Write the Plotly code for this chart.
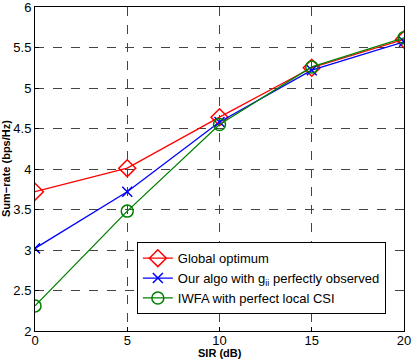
import plotly.graph_objects as go

sir = [0, 5, 10, 15, 20]
global_opt = [3.72, 4.01, 4.64, 5.25, 5.60]
our_algo = [3.02, 3.72, 4.58, 5.22, 5.57]
iwfa = [2.31, 3.48, 4.55, 5.26, 5.62]

names = ["Global optimum", "Our algo with g<sub>ii</sub> perfectly observed", "IWFA with perfect local CSI"]
colors = ["#ff0000", "#0000ff", "#008000"]
symbols = ["diamond-open", "x-thin-open", "circle-open"]
sizes = [13, 10, 12]

fig = go.Figure()
for y, n, c, s, sz in zip([global_opt, our_algo, iwfa], names, colors, symbols, sizes):
    fig.add_trace(go.Scatter(x=sir, y=y, name=n, mode="lines+markers",
                             line=dict(color=c, width=1.3),
                             marker=dict(symbol=s, size=sz, color=c, line=dict(color=c, width=1.5))))

axis_common = dict(showline=True, linecolor="black", linewidth=1, mirror=True,
                   showgrid=True, gridcolor="#444444", griddash="dash", gridwidth=1,
                   ticks="inside", ticklen=4, tickcolor="black", zeroline=False,
                   automargin=False, ticklabeloverflow="allow",
                   tickfont=dict(family="Liberation Sans, Arial", size=13, color="black"))

fig.update_xaxes(range=[0, 20], tickvals=[0, 5, 10, 15, 20], ticklabelstandoff=-3, **axis_common)
fig.update_yaxes(range=[2, 6], tickvals=[2, 2.5, 3, 3.5, 4, 4.5, 5, 5.5, 6],
                 ticktext=["2", "2.5", "3", "3.5", "4", "4.5", "5", "5.5", "6"], **axis_common)

title_font = dict(family="Liberation Sans, Arial", size=11, color="black")
fig.add_annotation(text="<b>SIR (dB)</b>", xref="paper", yref="paper", x=0.5, y=0,
                   xanchor="center", yanchor="top", yshift=-14, showarrow=False, font=title_font)
fig.add_annotation(text="<b>Sum−rate (bps/Hz)</b>", xref="paper", yref="paper", x=0, y=0.5,
                   xanchor="right", yanchor="middle", xshift=-21, textangle=-90,
                   showarrow=False, font=title_font)

fig.update_layout(width=412, height=359, margin=dict(l=35, r=8, t=7, b=28, autoexpand=False),
                  plot_bgcolor="white", paper_bgcolor="white",
                  font=dict(family="Liberation Sans, Arial", size=13, color="black"),
                  legend=dict(x=0.276, y=0.274, xanchor="left", yanchor="top",
                              bgcolor="white", bordercolor="black", borderwidth=1,
                              font=dict(size=13), tracegroupgap=0, itemwidth=30))

fig.write_html("out.html")
